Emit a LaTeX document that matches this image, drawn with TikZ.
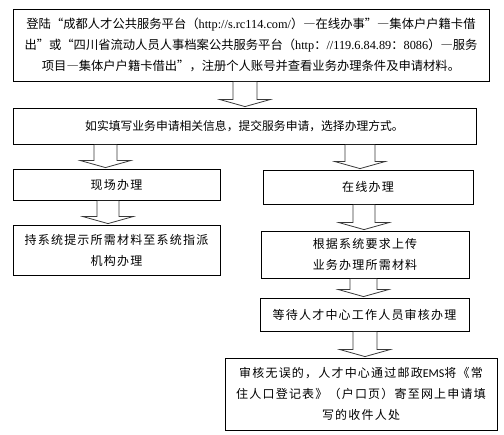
\documentclass[tikz,border=0pt]{standalone}
\usepackage{fontspec}
\setmainfont{Noto Sans CJK SC}
\newfontfamily\tnr{Liberation Serif}
\newfontfamily\calfont{Carlito}
\newfontfamily\fwfont[RawFeature=+fwid]{Noto Sans CJK SC}
\newfontfamily\spc[LetterSpace=10]{Noto Sans CJK SC}
\newcommand{\fw}[1]{{\fwfont #1}}
\usetikzlibrary{calc}
\newcommand{\blockarr}[4]{%
  \draw[arr] let \p1=(#2.south), \p2=(#3.north) in
    ({(#1-#4)*1pt},{\y1-0.4pt}) -- ({(#1-#4)*1pt},{\y2+8pt}) -- ({(#1-25)*1pt},{\y2+8pt})
    -- ({#1*1pt},{\y2+1pt}) -- ({(#1+25)*1pt},{\y2+8pt}) -- ({(#1+#4)*1pt},{\y2+8pt})
    -- ({(#1+#4)*1pt},{\y1-0.4pt});}
\begin{document}
\begin{tikzpicture}[x=1pt,y=1pt,
  box/.style={draw, line width=0.8pt, inner sep=0pt, align=center},
  lowtext/.style={font=\spc\fontsize{12}{21}\selectfont},
  arr/.style={draw=gray!45!black, fill=white, line width=0.8pt, line join=miter}]
\fill[white] (0,0) rectangle (504,435);
\useasboundingbox (0,0) rectangle (504,435);
\node[box, minimum width=476pt, minimum height=72pt, font=\fontsize{12.3}{21}\selectfont] (b1) at (251,390)
 {登陆\fw{“}成都人才公共服务平台（{\tnr http://s.rc114.com/}）\fw{—}在线办事\fw{”}\fw{—}集体户户籍卡借\\
  出\fw{”}或\fw{“}四川省流动人员人事档案公共服务平台（{\tnr http}：{\tnr //119.6.84.89}：{\tnr 8086}）\fw{—}服务\\
  项目\fw{—}集体户户籍卡借出\fw{”}，注册个人账号并查看业务办理条件及申请材料。};
\node[box, minimum width=463pt, minimum height=36pt, font=\fontsize{11.8}{21}\selectfont] (b2) at (244.5,309)
 {如实填写业务申请相关信息，提交服务申请，选择办理方式。};
\node[box, lowtext, minimum width=207pt, minimum height=31pt] (l1) at (116.5,250.5) {现场办理};
\node[box, lowtext, minimum width=207pt, minimum height=50pt] (l2) at (116.5,185)
 {持系统提示所需材料至系统指派\\机构办理};
\node[box, lowtext, minimum width=210pt, minimum height=34pt] (r1) at (368,248) {在线办理};
\node[box, lowtext, minimum width=208pt, minimum height=47pt] (r2) at (365,180.5)
 {根据系统要求上传\\业务办理所需材料};
\node[box, lowtext, minimum width=209pt, minimum height=33pt] (r3) at (364.5,120.5)
 {等待人才中心工作人员审核办理};
\node[box, lowtext, minimum width=272pt, minimum height=72pt] (r4) at (361,41)
 {审核无误的，人才中心通过邮政{\calfont EMS}将《常\\住人口登记表》（户口页）寄至网上申请填\\写的收件人处};
\blockarr{245}{b1}{b2}{12}
\blockarr{105.5}{b2}{l1}{11.5}
\blockarr{108}{l1}{l2}{11}
\blockarr{360}{b2}{r1}{15}
\blockarr{364}{r1}{r2}{11}
\blockarr{363.5}{r2}{r3}{13.5}
\blockarr{365}{r3}{r4}{12}
\end{tikzpicture}
\end{document}
